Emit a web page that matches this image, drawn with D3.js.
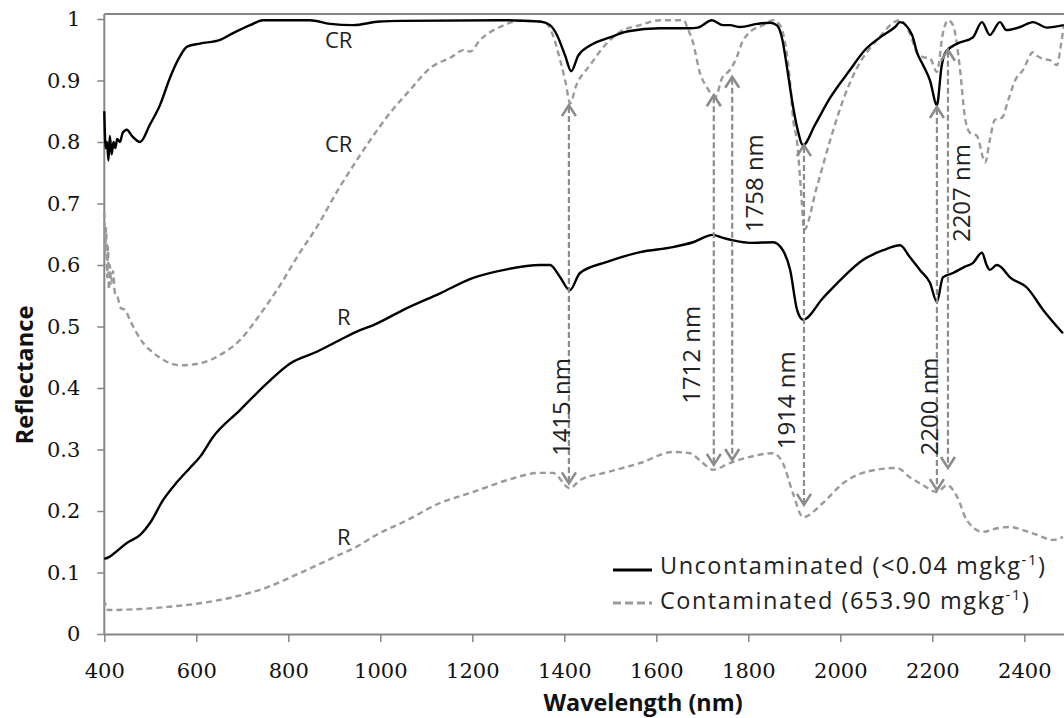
<!DOCTYPE html>
<html>
<head>
<meta charset="utf-8">
<script src="https://cdn.jsdelivr.net/npm/d3@7"></script>
<style>
  body { margin: 0; background: #fff; }
  svg { display: block; }
</style>
</head>
<body>
<div id="chart"></div>
<script>
// wavelength (nm) / reflectance pairs
var crUncNm = [400,403,406,409,412,416,420,424,428,434,440,449,460,478,499,521,543,565,580,608,652,680,717,745,847,891,941,999,1043,1260,1347,1369,1384,1402,1415,1430,1456,1499,1539,1608,1673,1690,1721,1745,1760,1782,1819,1847,1862,1873,1884,1895,1906,1919,1945,1978,2021,2054,2086,2119,2130,2156,2167,2180,2195,2210,2220,2228,2254,2288,2308,2325,2347,2361,2391,2419,2449,2486];
var crUnc   = [0.85,0.79,0.80,0.77,0.81,0.78,0.80,0.79,0.805,0.80,0.815,0.82,0.81,0.80,0.828,0.86,0.905,0.94,0.955,0.96,0.966,0.977,0.99,0.998,0.998,0.992,0.99,0.996,0.997,0.998,0.996,0.99,0.974,0.94,0.915,0.94,0.957,0.97,0.98,0.985,0.985,0.986,0.998,0.99,0.99,0.987,0.992,0.994,0.99,0.97,0.922,0.868,0.824,0.795,0.828,0.872,0.917,0.95,0.97,0.987,0.995,0.974,0.945,0.925,0.90,0.86,0.922,0.945,0.96,0.97,0.995,0.974,0.995,0.982,0.987,0.995,0.986,0.99];

var crConNm = [400,402,404,406,408,410,412,415,419,423,428,436,445,456,467,478,488,499,521,565,608,652,695,738,782,825,858,912,945,978,1021,1065,1108,1152,1184,1195,1217,1260,1304,1358,1375,1391,1402,1413,1425,1456,1488,1521,1565,1608,1660,1667,1680,1695,1710,1728,1743,1760,1775,1786,1804,1832,1854,1869,1880,1891,1897,1906,1916,1921,1949,1978,2006,2036,2080,2130,2151,2167,2180,2195,2210,2223,2234,2245,2260,2271,2282,2297,2315,2325,2336,2352,2365,2380,2397,2419,2428,2441,2456,2471,2480,2486];
var crCon   = [0.685,0.62,0.66,0.58,0.63,0.56,0.60,0.57,0.59,0.555,0.55,0.53,0.527,0.51,0.494,0.48,0.47,0.462,0.449,0.437,0.44,0.454,0.478,0.519,0.567,0.62,0.657,0.727,0.766,0.803,0.847,0.885,0.92,0.937,0.95,0.947,0.966,0.987,0.997,0.995,0.974,0.933,0.90,0.863,0.89,0.925,0.957,0.979,0.99,0.998,0.998,0.987,0.961,0.912,0.889,0.873,0.904,0.917,0.938,0.961,0.979,0.99,0.998,0.99,0.961,0.896,0.84,0.80,0.706,0.657,0.727,0.803,0.868,0.92,0.966,0.998,0.977,0.945,0.938,0.936,0.914,0.977,0.998,0.99,0.92,0.84,0.815,0.81,0.767,0.803,0.836,0.84,0.868,0.90,0.917,0.946,0.94,0.935,0.933,0.925,0.96,0.99];

var rUncNm = [400,410,423,449,478,499,528,558,586,608,636,695,754,804,862,912,956,984,1058,1130,1202,1275,1347,1369,1391,1412,1434,1493,1565,1636,1680,1723,1745,1767,1804,1854,1875,1891,1906,1919,1962,2006,2049,2093,2130,2151,2173,2195,2210,2223,2245,2270,2288,2308,2318,2325,2340,2347,2369,2406,2441,2484];
var rUnc   = [0.122,0.125,0.132,0.148,0.161,0.18,0.218,0.247,0.27,0.288,0.32,0.364,0.408,0.44,0.459,0.478,0.494,0.502,0.53,0.554,0.579,0.593,0.60,0.60,0.58,0.559,0.587,0.605,0.621,0.629,0.637,0.649,0.644,0.64,0.636,0.637,0.624,0.592,0.527,0.511,0.546,0.58,0.608,0.624,0.632,0.613,0.592,0.571,0.54,0.58,0.587,0.597,0.603,0.62,0.60,0.592,0.60,0.598,0.58,0.563,0.527,0.489];

var rConNm = [400,402,405,412,462,536,608,680,754,825,897,956,984,1058,1130,1202,1275,1347,1375,1412,1434,1493,1565,1636,1673,1701,1723,1760,1804,1854,1875,1897,1919,1962,2006,2049,2123,2151,2180,2210,2232,2254,2275,2310,2341,2369,2397,2428,2462,2484];
var rCon   = [0.044,0.05,0.04,0.039,0.04,0.044,0.05,0.06,0.076,0.099,0.124,0.145,0.158,0.185,0.213,0.231,0.25,0.262,0.262,0.237,0.25,0.263,0.278,0.296,0.294,0.278,0.267,0.278,0.288,0.294,0.278,0.229,0.19,0.213,0.245,0.262,0.27,0.255,0.242,0.231,0.242,0.223,0.185,0.166,0.172,0.174,0.169,0.161,0.153,0.158];

// absorption feature arrows
var arrowNm     = [1410,1725,1765,1921,2210,2234];
var arrowTop    = [0.86,0.876,0.906,0.795,0.857,0.95];
var arrowBottom = [0.245,0.275,0.283,0.21,0.234,0.27];
var arrowLabels = ['1415 nm','1712 nm','1758 nm','1914 nm','2200 nm','2207 nm'];

var xTicks = [400,600,800,1000,1200,1400,1600,1800,2000,2200,2400];
var yTicks = [0,0.1,0.2,0.3,0.4,0.5,0.6,0.7,0.8,0.9,1];
var yTickLabels = ['0','0.1','0.2','0.3','0.4','0.5','0.6','0.7','0.8','0.9','1'];

var seriesNames = ['Uncontaminated (<0.04 mgkg', 'Contaminated (653.90 mgkg'];

function zip(nm, v){
    return nm.map(function(d,i){ return [d, v[i]]; });
}

function DrawChart(){
    var width = 1064, height = 718;
    var grey = '#8c8c8c', axisGrey = '#858585';
    var sans = '"Open Sans", sans-serif';

    var x = d3.scaleLinear().domain([400,2500]).range([104.3,1070.3]);
    var y = d3.scaleLinear().domain([0,1]).range([634,19]);

    var svg = d3.select('#chart').append('svg')
        .attr('width', width)
        .attr('height', height);

    svg.append('rect').attr('width', width).attr('height', height).attr('fill', '#fff');

    // frame top line
    svg.append('line')
        .attr('x1', x(400)).attr('x2', x(2500))
        .attr('y1', y(1.008)).attr('y2', y(1.008))
        .attr('stroke', axisGrey).attr('stroke-width', 2);

    var yAxis = d3.axisLeft(y).tickValues(yTicks)
        .tickFormat(function(d,i){ return yTickLabels[i]; })
        .tickSize(7).tickSizeOuter(0).tickPadding(17);
    var xAxis = d3.axisBottom(x).tickValues(xTicks)
        .tickFormat(d3.format('d'))
        .tickSize(8).tickSizeOuter(0);

    var gy = svg.append('g').attr('transform', 'translate(' + x(400) + ',0)').call(yAxis);
    gy.select('.domain').attr('d', 'M0,' + y(0) + 'V' + y(1.008));
    var gx = svg.append('g').attr('transform', 'translate(0,' + y(0) + ')').call(xAxis);

    [gx, gy].forEach(function(g){
        g.select('.domain').attr('stroke', axisGrey).attr('stroke-width', 2);
        g.selectAll('.tick line').attr('stroke', axisGrey).attr('stroke-width', 1.5);
        g.selectAll('.tick text')
            .attr('fill', '#111')
            .style('font-family', '"DejaVu Serif", serif')
            .style('font-size', '21px');
    });
    gx.selectAll('.tick text').attr('y', 44).attr('dy', 0);

    // axis titles
    svg.append('text')
        .attr('transform', 'translate(33,375) rotate(-90)')
        .attr('text-anchor', 'middle')
        .style('font-family', sans).style('font-weight', 'bold').style('font-size', '23.8px')
        .attr('fill', '#111')
        .text('Reflectance');
    svg.append('text')
        .attr('x', 643).attr('y', 711)
        .attr('text-anchor', 'middle')
        .style('font-family', sans).style('font-weight', 'bold').style('font-size', '23.4px')
        .attr('fill', '#111')
        .text('Wavelength (nm)');

    var line = d3.line()
        .x(function(d){ return x(d[0]); })
        .y(function(d){ return y(d[1]); })
        .curve(d3.curveMonotoneX);

    var series = [
        {data: zip(crConNm, crCon), dashed: true},
        {data: zip(rConNm, rCon), dashed: true},
        {data: zip(crUncNm, crUnc), dashed: false},
        {data: zip(rUncNm, rUnc), dashed: false}
    ];

    svg.selectAll('path.series').data(series).enter().append('path')
        .attr('class', 'series')
        .attr('d', function(d){ return line(d.data); })
        .attr('fill', 'none')
        .attr('stroke', function(d){ return d.dashed ? '#9a9a9a' : '#000'; })
        .attr('stroke-width', 2.4)
        .attr('stroke-dasharray', function(d){ return d.dashed ? '6,4' : null; })
        .attr('stroke-linejoin', 'round');

    // arrows
    var arrows = arrowNm.map(function(d,i){
        return {nm: d, top: arrowTop[i], bottom: arrowBottom[i], label: arrowLabels[i]};
    });
    var ag = svg.selectAll('g.arrow').data(arrows).enter().append('g').attr('class', 'arrow');
    ag.append('line')
        .attr('x1', function(d){ return x(d.nm); }).attr('x2', function(d){ return x(d.nm); })
        .attr('y1', function(d){ return y(d.top) + 2; }).attr('y2', function(d){ return y(d.bottom) - 2; })
        .attr('stroke', grey).attr('stroke-width', 2.2).attr('stroke-dasharray', '6,3');
    ag.append('path')
        .attr('d', function(d){
            var cx = x(d.nm), t = y(d.top), b = y(d.bottom);
            return 'M' + (cx-7) + ',' + (t+11) + 'L' + cx + ',' + t + 'L' + (cx+7) + ',' + (t+11) +
                   'M' + (cx-7) + ',' + (b-11) + 'L' + cx + ',' + b + 'L' + (cx+7) + ',' + (b-11);
        })
        .attr('fill', 'none').attr('stroke', grey).attr('stroke-width', 2.6);

    // label placement: pixel offset of baseline from the arrow, and centre height
    var labelDx = [1, -14, 31, -9, 1, 22];
    var labelAt = [0.369, 0.454, 0.733, 0.38, 0.37, 0.717];
    ag.append('text')
        .attr('transform', function(d,i){
            return 'translate(' + (x(d.nm) + labelDx[i]) + ',' + y(labelAt[i]) + ') rotate(-90)';
        })
        .attr('text-anchor', 'middle')
        .style('font-family', sans).style('font-size', '24px')
        .attr('fill', '#222')
        .text(function(d){ return d.label; });

    // curve labels
    var curveLabels = [
        {t: 'CR', px: 325, py: 48},
        {t: 'CR', px: 325, py: 152},
        {t: 'R', px: 337, py: 325},
        {t: 'R', px: 337, py: 545}
    ];
    svg.selectAll('text.cl').data(curveLabels).enter().append('text')
        .attr('class', 'cl')
        .attr('x', function(d){ return d.px; }).attr('y', function(d){ return d.py; })
        .style('font-family', sans).style('font-size', '22px')
        .attr('fill', '#222')
        .text(function(d){ return d.t; });

    // legend
    var lg = svg.append('g');
    var rows = [{y: 570, ty: 574, dashed: false}, {y: 603, ty: 609, dashed: true}];
    rows.forEach(function(r, i){
        lg.append('line')
            .attr('x1', 613).attr('x2', 652).attr('y1', r.y).attr('y2', r.y)
            .attr('stroke', r.dashed ? '#9a9a9a' : '#000')
            .attr('stroke-width', 3)
            .attr('stroke-dasharray', r.dashed ? '8,4' : null);
        var t = lg.append('text')
            .attr('x', 660).attr('y', r.ty)
            .style('font-family', sans).style('font-size', '23.5px')
            .style('letter-spacing', '1.5px')
            .attr('fill', '#222');
        t.append('tspan').text(seriesNames[i]);
        t.append('tspan').attr('dy', -9).style('font-size', '15px').text('-1');
        t.append('tspan').attr('dy', 9).text(')');
    });
}

DrawChart();
</script>
</body>
</html>
